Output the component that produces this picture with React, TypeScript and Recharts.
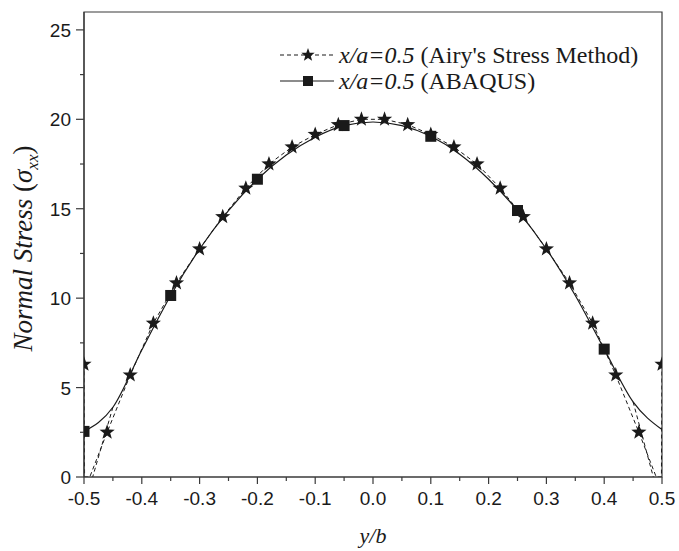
import React from "react"
import {
  ComposedChart,
  Line,
  XAxis,
  YAxis,
  ReferenceArea
} from "recharts"

// Airy's stress method (stars), y/b positions and sigma_xx
const airyX = [
  -0.5, -0.46, -0.42, -0.38, -0.34, -0.3, -0.26, -0.22, -0.18, -0.14, -0.1, -0.06, -0.02,
  0.02, 0.06, 0.1, 0.14, 0.18, 0.22, 0.26, 0.3, 0.34, 0.38, 0.42, 0.46, 0.5
]
const airyStress = [
  6.3, 2.5, 5.7, 8.6, 10.85, 12.75, 14.55, 16.15, 17.5, 18.45, 19.15, 19.7, 20.0,
  20.0, 19.7, 19.15, 18.45, 17.5, 16.15, 14.55, 12.75, 10.85, 8.6, 5.7, 2.5, 6.3
]
// dip of the dashed curve near the free edges (no symbol)
const airyEdgeX = [-0.499, -0.49, 0.49, 0.499]
const airyEdgeStress = [0, 0, 0, 0]
// stray dashed trace near the edges
const airyTraceX = [-0.45, -0.485, 0, 0.45, 0.485]
const airyTraceStress: (number | null)[] = [3.9, 0, null, 4.2, 0]

// ABAQUS (squares)
const abaqusX = [
  -0.5, -0.45, -0.4, -0.35, -0.3, -0.25, -0.2, -0.15, -0.1, -0.05, 0,
  0.05, 0.1, 0.15, 0.2, 0.25, 0.3, 0.35, 0.4, 0.45, 0.5
]
const abaqusStress = [
  2.55, 3.9, 7.1, 10.15, 12.75, 14.9, 16.65, 18.0, 19.0, 19.65, 19.85,
  19.65, 19.05, 18.05, 16.65, 14.9, 12.75, 10.15, 7.15, 4.2, 2.65
]
const abaqusMarkX = [-0.5, -0.35, -0.2, -0.05, 0.1, 0.25, 0.4]

const xTicks = [
  -0.5, -0.45, -0.4, -0.35, -0.3, -0.25, -0.2, -0.15, -0.1, -0.05, 0,
  0.05, 0.1, 0.15, 0.2, 0.25, 0.3, 0.35, 0.4, 0.45, 0.5
]
const yTicks = [0, 2.5, 5, 7.5, 10, 12.5, 15, 17.5, 20, 22.5, 25]

const airyLabel = "(Airy's Stress Method)"
const abaqusLabel = "(ABAQUS)"
const ratioLabel = "x/a=0.5"

const INK = "#1a1a1a"
const AXIS = "#3a3a3a"
const SANS = "'Liberation Sans', Arial, sans-serif"
const SERIF = "'Liberation Serif', 'Times New Roman', serif"

const airyData = [
  ...airyX.map((x, i) => ({ x, y: airyStress[i], mark: true })),
  ...airyEdgeX.map((x, i) => ({ x, y: airyEdgeStress[i], mark: false }))
].sort((a, b) => a.x - b.x)

const traceData = airyTraceX.map((x, i) => ({ x, y: airyTraceStress[i] }))

const abaqusData = abaqusX.map((x, i) => ({
  x,
  y: abaqusStress[i],
  mark: abaqusMarkX.some(m => Math.abs(m - x) < 1e-9)
}))

function starPath(cx: number, cy: number, R: number, r: number) {
  let d = ""
  for (let k = 0; k < 10; k++) {
    const rad = k % 2 === 0 ? R : r
    const a = -Math.PI / 2 + (k * Math.PI) / 5
    d += (k === 0 ? "M" : "L") + (cx + rad * Math.cos(a)).toFixed(2) + "," + (cy + rad * Math.sin(a)).toFixed(2)
  }
  return d + "Z"
}

const StarDot = (props: any) => {
  const { cx, cy, payload, index } = props
  if (!payload.mark) return <g key={"s" + index} />
  return <path key={"s" + index} d={starPath(cx, cy, 8, 3.3)} fill={INK} />
}

const SquareDot = (props: any) => {
  const { cx, cy, payload, index } = props
  if (!payload.mark) return <g key={"q" + index} />
  return <rect key={"q" + index} x={cx - 5.5} y={cy - 5.5} width={11} height={11} fill={INK} />
}

const XTick = (props: any) => {
  const { x, y, payload } = props
  const v = payload.value
  const major = Math.abs(v * 10 - Math.round(v * 10)) < 1e-6
  return (
    <g>
      <line x1={x} x2={x} y1={y} y2={y + (major ? 7 : 4)} stroke={AXIS} strokeWidth={1.2} />
      {major && (
        <text x={x} y={y + 28} textAnchor="middle" style={{ fontSize: 19, fontFamily: SANS }} fill={INK}>
          {v.toFixed(1)}
        </text>
      )}
    </g>
  )
}

const YTick = (props: any) => {
  const { x, y, payload } = props
  const v = payload.value
  const major = v % 5 === 0
  return (
    <g>
      <line x1={x - (major ? 8 : 4)} x2={x} y1={y} y2={y} stroke={AXIS} strokeWidth={1.2} />
      {major && (
        <text x={x - 13} y={y + 7} textAnchor="end" style={{ fontSize: 19, fontFamily: SANS }} fill={INK}>
          {v}
        </text>
      )}
    </g>
  )
}

const YLabel = (props: any) => {
  const vb = props.viewBox || { x: 0, y: 0, width: 0, height: 0 }
  const cx = vb.x + 32
  const cy = vb.y + vb.height / 2 + 4
  return (
    <text
      transform={`translate(${cx},${cy}) rotate(-90)`}
      textAnchor="middle"
      style={{ fontSize: 27, fontFamily: SERIF }}
      fill={INK}
    >
      <tspan fontStyle="italic">Normal Stress</tspan>
      <tspan> (</tspan>
      <tspan fontStyle="italic">σ</tspan>
      <tspan fontStyle="italic" style={{ fontSize: 17 }} dy={6}>xx</tspan>
      <tspan dy={-6}>)</tspan>
    </text>
  )
}

const XLabel = (props: any) => {
  const vb = props.viewBox || { x: 0, y: 0, width: 0, height: 0 }
  return (
    <text
      x={vb.x + vb.width / 2}
      y={vb.y + 66}
      textAnchor="middle"
      style={{ fontSize: 22, fontFamily: SERIF, fontStyle: "italic" }}
      fill={INK}
    >
      y/b
    </text>
  )
}

const LegendBox = () => {
  const row = (dashed: boolean, label: string) => (
    <div style={{ display: "flex", alignItems: "center", height: 26 }}>
      <svg width={58} height={20} style={{ marginRight: 3 }}>
        <line
          x1={2}
          x2={56}
          y1={10}
          y2={10}
          stroke={INK}
          strokeWidth={1.2}
          strokeDasharray={dashed ? "4 3" : undefined}
        />
        {dashed ? (
          <path d={starPath(30, 10, 7, 2.9)} fill={INK} />
        ) : (
          <rect x={25} y={5} width={10} height={10} fill={INK} />
        )}
      </svg>
      <span style={{ fontFamily: SERIF, fontSize: 24, color: INK, whiteSpace: "nowrap", lineHeight: "26px" }}>
        <i>{ratioLabel}</i> {label}
      </span>
    </div>
  )
  return (
    <div style={{ position: "absolute", left: 278, top: 42 }}>
      {row(true, airyLabel)}
      {row(false, abaqusLabel)}
    </div>
  )
}

export default function App() {
  return (
    <div style={{ position: "absolute", left: 0, top: 0, width: 679, height: 551, background: "#fff" }}>
      <ComposedChart width={679} height={551} margin={{ top: 12, right: 17, bottom: 44, left: 0 }}>
        <XAxis
          dataKey="x"
          type="number"
          domain={[-0.5, 0.5]}
          ticks={xTicks}
          interval={0}
          allowDataOverflow
          height={30}
          tickSize={0}
          tickMargin={0}
          tickLine={false}
          axisLine={{ stroke: AXIS, strokeWidth: 1.2 }}
          tick={<XTick />}
          label={<XLabel />}
        />
        <YAxis
          dataKey="y"
          type="number"
          domain={[0, 26]}
          ticks={yTicks}
          interval={0}
          allowDataOverflow
          width={84}
          tickSize={0}
          tickMargin={0}
          tickLine={false}
          axisLine={{ stroke: AXIS, strokeWidth: 1.2 }}
          tick={<YTick />}
          label={<YLabel />}
        />
        <ReferenceArea x1={-0.5} x2={0.5} y1={0} y2={26} fill="none" stroke={AXIS} strokeWidth={1.2} />
        <Line
          data={traceData}
          dataKey="y"
          type="linear"
          stroke={INK}
          strokeWidth={1}
          strokeDasharray="4 3"
          dot={false}
          activeDot={false}
          legendType="none"
          connectNulls={false}
          isAnimationActive={false}
        />
        <Line
          data={airyData}
          dataKey="y"
          name="airy"
          type="linear"
          stroke={INK}
          strokeWidth={1}
          strokeDasharray="4 3"
          dot={<StarDot />}
          activeDot={false}
          isAnimationActive={false}
        />
        <Line
          data={abaqusData}
          dataKey="y"
          name="abaqus"
          type="monotone"
          stroke={INK}
          strokeWidth={1.2}
          dot={<SquareDot />}
          activeDot={false}
          isAnimationActive={false}
        />
      </ComposedChart>
      <LegendBox />
    </div>
  )
}
